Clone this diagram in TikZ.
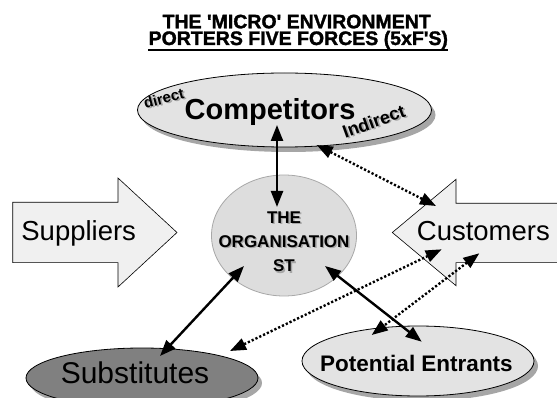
\documentclass[tikz,border=0pt]{standalone}
\usepackage{fontspec}
\setmainfont{Liberation Sans}
\newfontfamily\headfont{Liberation Sans}[BoldFeatures={FakeBold=1.6}]
\usetikzlibrary{arrows.meta, shapes.geometric, shadows}

\definecolor{paleforce}{HTML}{E3E3E3}
\definecolor{orgfill}{HTML}{DDDDDD}
\definecolor{orgline}{HTML}{A8A8A8}
\definecolor{flowfill}{HTML}{F0F0F0}
\definecolor{darkforce}{HTML}{808080}
\definecolor{castgray}{HTML}{A6A6A6}

% text with a soft grey copy behind it
\newcommand\dropped[1]{\leavevmode\rlap{\hspace{1.4pt}\raisebox{-1.4pt}{\color{black!35}#1}}#1}

\begin{document}
\begin{tikzpicture}[
    x=1pt, y=-1pt,
    force/.style={
        draw, ellipse, inner sep=0pt, line width=0.8pt
    },
    castshadow/.style={
        drop shadow={shadow xshift=4pt, shadow yshift=-5pt,
                     fill=castgray, opacity=1}
    },
    flow/.style={draw, fill=flowfill, line width=0.6pt},
    heading/.style={font=\headfont\bfseries\fontsize{19.5}{22}\selectfont, inner sep=0pt},
    flowtext/.style={font=\fontsize{27.5}{33}\selectfont, inner sep=0pt},
    link/.style={
        {Triangle[length=16pt,width=12pt]}-{Triangle[length=16pt,width=12pt]},
        line width=2.4pt
    },
    hint/.style={link, line width=2.4pt, dash pattern=on 2.2pt off 2pt},
]

\clip (0,0) rectangle (557,398);

% Heading
\node[heading, anchor=base] (title1) at (296.7,28.3)
    {THE \textquotesingle MICRO\textquotesingle\ ENVIRONMENT};
\node[heading, anchor=base] (title2) at (298.3,45)
    {PORTERS FIVE FORCES (5xF\textquotesingle S)};
\draw[line width=1.6pt] ([yshift=-5pt]title2.base west) -- ([yshift=-5pt]title2.base east);

% Supply side and demand side
\draw[flow] (12.7,202.3) -- (118,202.3) -- (118,178) -- (177,232.5)
    -- (118,287) -- (118,262.7) -- (12.7,262.7) -- cycle;
\node[flowtext, anchor=base] (suppliers) at (78.7,240.5) {Suppliers};

\draw[flow] (570,203.3) -- (456,203.3) -- (456,179.3) -- (392.3,232.5)
    -- (456,285.7) -- (456,262.7) -- (570,262.7) -- cycle;
\node[flowtext, anchor=base west] (customers) at (416.7,241) {Customers};

% Competitors
\node[force, castshadow, fill=paleforce, minimum width=294pt, minimum height=74pt]
    (comp) at (284.5,110) {};
\node[font=\bfseries\fontsize{29}{34}\selectfont, inner sep=0pt, anchor=base]
    (complabel) at (270,120) {Competitors};
\node[font=\bfseries\fontsize{15}{18}\selectfont, inner sep=0pt, rotate=15]
    (direct) at (164,99) {\dropped{direct}};
\node[font=\bfseries\fontsize{18}{21}\selectfont, inner sep=0pt, rotate=20]
    (indirect) at (374,122) {\dropped{Indirect}};

% The firm itself
\node[draw=orgline, fill=orgfill, ellipse, line width=0.8pt,
      minimum width=145pt, minimum height=121pt] (org) at (284,235.5) {};
\node[font=\bfseries\fontsize{17}{24.3}\selectfont, align=center, inner sep=0pt]
    (orglabel) at (284,242.3) {\dropped{THE}\\\dropped{ORGANISATION}\\\dropped{ST}};

% Lower forces
\node[force, castshadow, fill=darkforce, minimum width=232pt, minimum height=60pt]
    (subs) at (142,378) {};
\node[font=\fontsize{30}{36}\selectfont, inner sep=0pt, anchor=base]
    (subslabel) at (135,383.3) {Substitutes};

\node[force, castshadow, fill=paleforce, minimum width=232pt, minimum height=70pt]
    (entrants) at (418,361) {};
\node[font=\bfseries\fontsize{22.5}{27}\selectfont, inner sep=0pt, anchor=base]
    (entlabel) at (416.5,371.7) {Potential Entrants};

% arrow ports
\coordinate (comp-in)   at (277,125);
\coordinate (comp-dot)  at (316.7,145);
\coordinate (org-n)     at (277,207);
\coordinate (org-sw)    at (244,266);
\coordinate (org-se)    at (325,266);
\coordinate (cust-nw)   at (436,206);
\coordinate (cust-sw)   at (441.7,249.3);
\coordinate (cust-s)    at (479.3,253.3);
\coordinate (subs-n)    at (160,356);
\coordinate (subs-ne)   at (230,351);
\coordinate (ent-n)     at (421.7,341.7);
\coordinate (ent-nw)    at (371.7,335);

% Forces acting on the firm
\draw[link] (comp-in) -- (org-n);
\draw[link] (org-sw) -- (subs-n);
\draw[hint] (comp-dot) -- (cust-nw);
\draw[hint] (cust-sw) -- (subs-ne);
\draw[hint] (cust-s) -- (ent-nw);
\draw[link] (org-se) -- (ent-n);

\end{tikzpicture}
\end{document}
